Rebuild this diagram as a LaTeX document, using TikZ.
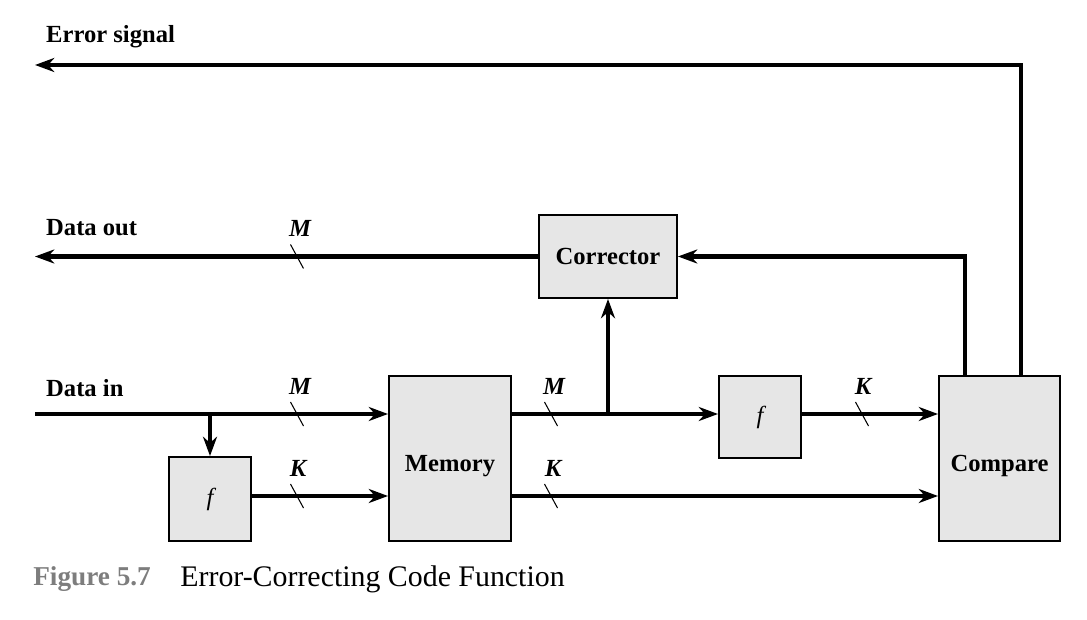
\documentclass[tikz,border=0pt]{standalone}
\usepackage{fontspec}
\setmainfont{Liberation Serif}
\usetikzlibrary{arrows.meta}
\definecolor{boxgray}{RGB}{230,230,230}
\definecolor{figgray}{RGB}{125,125,125}

\begin{document}
\begin{tikzpicture}[
    block/.style={rectangle, draw, line width=1.1pt, fill=boxgray, inner sep=0pt, font=\fontsize{14}{16}\selectfont\bfseries},
    bus/.style={line width=2.3pt},
    arrow/.style={bus, -{Stealth[length=11pt, width=8pt]}},
    slashmark/.style={line width=0.6pt},
    lbl/.style={anchor=west, font=\fontsize{14}{16}\selectfont\bfseries},
    sym/.style={font=\fontsize{14}{16}\selectfont\bfseries\itshape}
]
    \useasboundingbox (0,0) rectangle (21.74,12.38);

    % Bloecke
    \node[block, minimum width=2.76cm, minimum height=1.66cm] (corrector) at (12.16,7.25) {Corrector};
    \node[block, minimum width=2.44cm, minimum height=3.30cm] (memory) at (9.00,3.21) {\raisebox{-0.25cm}[0pt][0pt]{Memory}};
    \node[block, minimum width=2.42cm, minimum height=3.30cm] (compare) at (19.99,3.21) {\raisebox{-0.25cm}[0pt][0pt]{Compare}};
    \node[block, minimum width=1.64cm, minimum height=1.68cm, font=\fontsize{14}{16}\selectfont\itshape] (fin) at (4.20,2.40) {f};
    \node[block, minimum width=1.64cm, minimum height=1.64cm, font=\fontsize{14}{16}\selectfont\itshape] (fout) at (15.20,4.04) {f};

    % Beschriftungen
    \node[lbl] (errlabel) at (0.80,11.64) {Error signal};
    \node[lbl] (outlabel) at (0.80,7.82) {Data out};
    \node[lbl] (inlabel) at (0.80,4.62) {Data in};

    % freie Enden und Abzweige
    \coordinate (errend) at (0.70,11.08);
    \coordinate (outend) at (0.70,7.25);
    \coordinate (inend) at (0.70,4.10);
    \coordinate (split1) at (4.20,4.10);
    \coordinate (split2) at (12.16,4.10);
    \coordinate (kline) at (4.20,2.46);

    % Verbindungen
    \draw[arrow] ([xshift=0.43cm]compare.north) |- (errend);
    \draw[arrow] ([xshift=-0.69cm]compare.north) |- (corrector.east);
    \draw[arrow] (corrector.west) -- (outend);
    \draw[arrow] (inend) -- (inend -| memory.west);
    \draw[arrow] (split1) -- (fin.north);
    \draw[arrow] (kline -| fin.east) -- (kline -| memory.west);
    \draw[arrow] (memory.east |- split2) -- (split2 -| fout.west);
    \draw[arrow] (split2) -- (corrector.south);
    \draw[arrow] (split2 -| fout.east) -- (split2 -| compare.west);
    \draw[arrow] (memory.east |- kline) -- (kline -| compare.west);

    % Busbreiten
    \draw[slashmark] (5.94,7.25) ++(-0.13,0.24) -- ++(0.26,-0.48);
    \node[sym] (mout) at (6.00,7.82) {M};
    \draw[slashmark] (5.94,4.10) ++(-0.13,0.24) -- ++(0.26,-0.48);
    \node[sym] (min) at (6.00,4.66) {M};
    \draw[slashmark] (5.94,2.46) ++(-0.13,0.24) -- ++(0.26,-0.48);
    \node[sym] (kin) at (5.96,3.02) {K};
    \draw[slashmark] (11.02,4.10) ++(-0.13,0.24) -- ++(0.26,-0.48);
    \node[sym] (mmem) at (11.08,4.66) {M};
    \draw[slashmark] (11.02,2.46) ++(-0.13,0.24) -- ++(0.26,-0.48);
    \node[sym] (kmem) at (11.06,3.02) {K};
    \draw[slashmark] (17.24,4.10) ++(-0.13,0.24) -- ++(0.26,-0.48);
    \node[sym] (kout) at (17.26,4.66) {K};

    % Bildunterschrift
    \node[anchor=west, inner sep=0pt, text=figgray, font=\fontsize{15.5}{18}\selectfont\bfseries] (fignum) at (0.66,0.80) {Figure 5.7};
    \node[anchor=west, inner sep=0pt, font=\fontsize{17}{20}\selectfont] (figtitle) at (3.60,0.80) {Error-Correcting Code Function};
\end{tikzpicture}
\end{document}
